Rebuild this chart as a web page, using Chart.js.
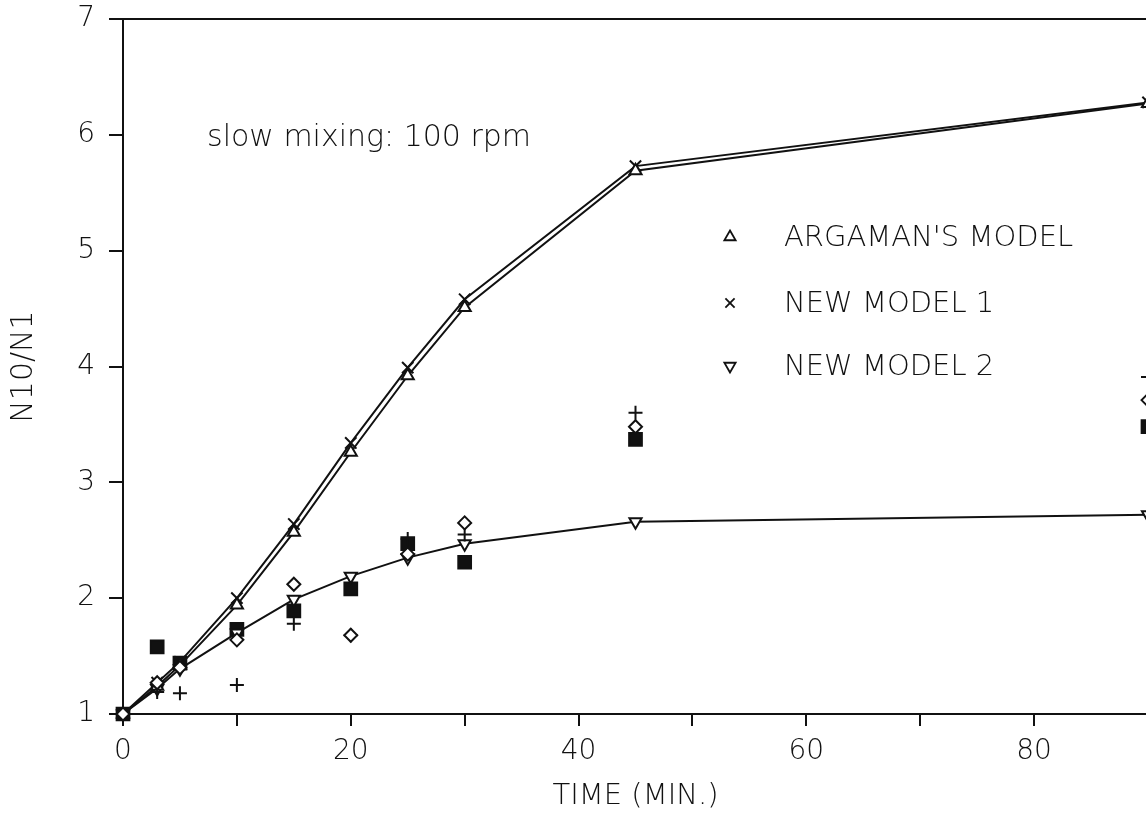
<!DOCTYPE html>
<html>
<head>
<meta charset="utf-8">
<script src="https://cdn.jsdelivr.net/npm/chart.js@4/dist/chart.umd.min.js"></script>
<style>
  html, body { margin:0; padding:0; background:#fff; overflow:hidden; }
  #wrap { width:1148px; height:815px; }
</style>
</head>
<body>
<div id="wrap"><canvas id="c" width="1148" height="815"></canvas></div>
<script>
// sampling times (min) and N10/N1 values
const TIME     = [0, 3, 5, 10, 15, 20, 25, 30, 45, 90];
const ARGAMAN  = [1, 1.24, 1.42, 1.94, 2.57, 3.26, 3.92, 4.51, 5.69, 6.27];
const MODEL1   = [1, 1.27, 1.45, 2.00, 2.64, 3.34, 3.99, 4.58, 5.73, 6.28];
const MODEL2   = [1, 1.22, 1.39, 1.70, 1.99, 2.19, 2.35, 2.47, 2.66, 2.72];
const SQUARES  = [1, 1.58, 1.44, 1.73, 1.89, 2.08, 2.47, 2.31, 3.37, 3.48];
const DIAMONDS = [1, 1.27, 1.40, 1.64, 2.12, 1.68, 2.38, 2.65, 3.48, 3.71];
const PLUSES   = [1, 1.19, 1.18, 1.25, 1.78, 1.68, 2.51, 2.55, 3.60, 3.91];

const X_TICKS_LABELLED = [0, 20, 40, 60, 80];
const LEGEND_LABELS = ["ARGAMAN'S MODEL", 'NEW MODEL 1', 'NEW MODEL 2'];
const NOTE = 'slow mixing: 100 rpm';

const FONT = 'DejaVu Sans';
const W = 200; // light weight when the face is there
const INK = '#111';

const pts = ys => TIME.map((t,i) => ({x:t, y:ys[i]}));

const modelSet = (label, ys, style, rot, r) => ({
  label, data: pts(ys), showLine:true, tension:0, clip:false,
  borderColor:INK, borderWidth:2,
  pointStyle:style, rotation:rot, pointRadius:r,
  pointBackgroundColor:'#fff', pointBorderColor:INK, pointBorderWidth:2,
  inLegend:true
});
const obsSet = (label, ys, style, r, fill) => ({
  label, data: pts(ys), showLine:false, clip:false,
  pointStyle:style, pointRadius:r,
  pointBackgroundColor:fill, pointBorderColor:INK, pointBorderWidth:2
});

const datasets = [
  obsSet('diamond', DIAMONDS, 'rectRot', 6.5, '#fff'),
  obsSet('plus', PLUSES, 'cross', 7, INK),
  modelSet(LEGEND_LABELS[0], ARGAMAN, 'triangle', 0, 7),
  modelSet(LEGEND_LABELS[1], MODEL1, 'crossRot', 0, 8),
  modelSet(LEGEND_LABELS[2], MODEL2, 'triangle', 180, 7),
  obsSet('square', SQUARES, 'rect', 9, INK)
];

// top frame line, note text and in-plot legend
const decor = {
  id:'decor',
  afterDraw(chart){
    const {ctx, chartArea:a} = chart;
    ctx.save();
    ctx.strokeStyle = INK; ctx.lineWidth = 2;
    ctx.beginPath(); ctx.moveTo(a.left - 1, a.top); ctx.lineTo(a.right + 2, a.top); ctx.stroke();

    ctx.fillStyle = INK;
    ctx.font = `${W} 30px "${FONT}"`;
    ctx.textBaseline = 'alphabetic';
    ctx.fillText(NOTE, 207, 146);

    const rows = [237, 303, 366];
    const legendSets = chart.data.datasets.filter(d => d.inLegend);
    ctx.textBaseline = 'middle';
    legendSets.forEach((d,i) => {
      ctx.fillStyle = '#fff';
      ctx.strokeStyle = INK; ctx.lineWidth = 1.8;
      Chart.helpers.drawPoint(ctx, {
        pointStyle:d.pointStyle, rotation:d.rotation, radius:6.5, borderWidth:1.8
      }, 730, rows[i]);
      ctx.fillStyle = INK;
      ctx.font = `${W} 29px "${FONT}"`;
      ctx.fillText(d.label, 784, rows[i] + 1);
    });
    ctx.restore();
  }
};

new Chart(document.getElementById('c'), {
  type:'scatter',
  data:{ datasets },
  options:{
    responsive:false, animation:false,
    layout:{ autoPadding:false, padding:{ top:19, right:0, left:0, bottom:0 } },
    plugins:{ legend:{display:false}, tooltip:{enabled:false} },
    scales:{
      x:{
        type:'linear', min:0, max:90,
        afterFit: s => { s.height = 101; s.paddingLeft = 0; s.paddingRight = 0; },
        border:{ display:true, color:INK, width:2 },
        grid:{ drawOnChartArea:false, drawTicks:true, tickLength:12, color:INK, lineWidth:2 },
        ticks:{ stepSize:10, color:INK, padding:9, maxRotation:0, autoSkip:false,
          font:{ family:FONT, size:28, weight:W },
          callback: v => X_TICKS_LABELLED.includes(v) ? String(v) : '' },
        title:{ display:true, text:'TIME (MIN.)', color:INK,
          font:{ family:FONT, size:29, weight:W }, padding:{top:1, bottom:1} }
      },
      y:{
        type:'linear', min:1, max:7,
        afterFit: s => { s.width = 123; s.paddingTop = 0; s.paddingBottom = 0; },
        border:{ display:true, color:INK, width:2 },
        grid:{ drawOnChartArea:false, drawTicks:true, tickLength:14, color:INK, lineWidth:2 },
        ticks:{ stepSize:1, color:INK, padding:14, font:{ family:FONT, size:28, weight:W } },
        title:{ display:true, text:'N10/N1', color:INK,
          font:{ family:FONT, size:30, weight:W }, padding:{top:6, bottom:0} }
      }
    }
  },
  plugins:[decor]
});
</script>
</body>
</html>
